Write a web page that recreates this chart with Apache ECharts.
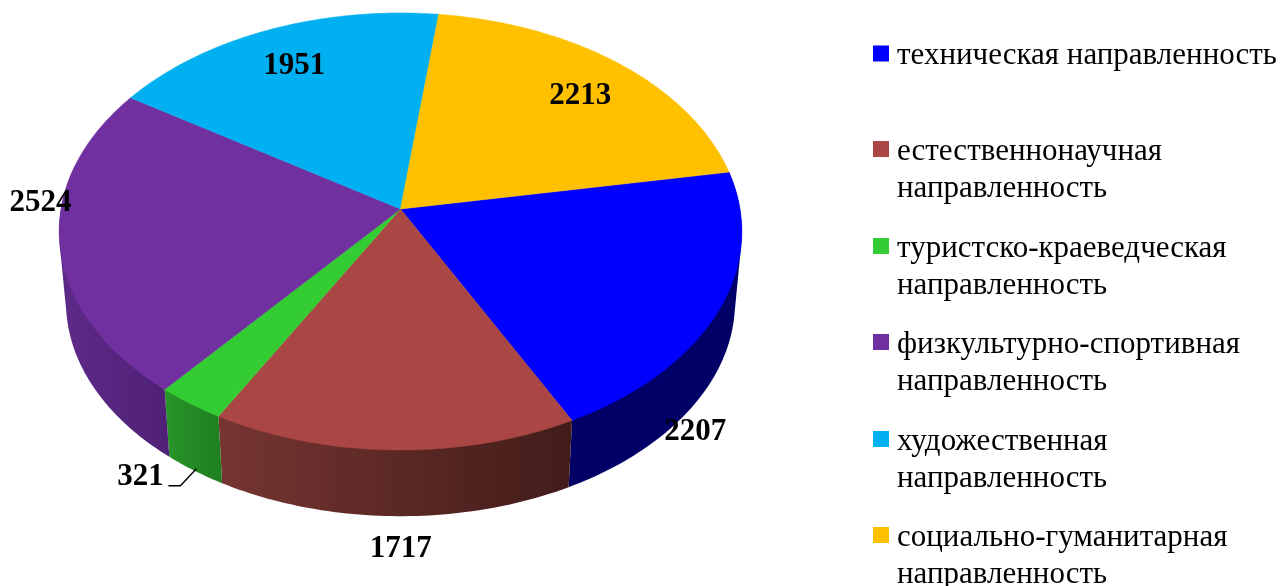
<!DOCTYPE html>
<html>
<head>
<meta charset="utf-8">
<title>Направленности</title>
<style>
	html, body { margin: 0; padding: 0; background: #fff; }
	#main { width: 1282px; height: 586px; }
</style>
<script src="https://cdn.jsdelivr.net/npm/echarts@6/dist/echarts.min.js"></script>
</head>
<body>
<div id="main"></div>
<script>
var categories = [
	'техническая направленность',
	'естественнонаучная\nнаправленность',
	'туристско-краеведческая\nнаправленность',
	'физкультурно-спортивная\nнаправленность',
	'художественная\nнаправленность',
	'социально-гуманитарная\nнаправленность'
];
var values = [2207, 1717, 321, 2524, 1951, 2213];
var topColors = ['#0000ff', '#aa4643', '#33cc33', '#7030a0', '#00b0f0', '#ffc000'];
var wallColors = [
	['#000066', '#000066'],
	['#763532', '#421c19'],
	['#28952a', '#1f7f20'],
	['#5e2a88', '#4f2176'],
	['#00b0f0', '#00b0f0'],
	['#ffc000', '#ffc000']
];
// label offset from the middle of the slice rim
var labelOffsets = [[-24, 122], [6.5, 99], [-50, 73], [-19, -39], [25, 36], [-38, 33]];
var legendTops = [37, 133, 230, 326, 423, 519];

var startAngle = 80;
var total = values.reduce(function (a, b) { return a + b; }, 0);

// the pie is a disc seen in perspective, apex is not the middle of the ellipse
var apexX = 400.5, apexY = 209, radX = 339.5, radY = 216.2, persp = 0.103;
var wallDrop = 71, wallScale = 0.98;

function rimPoint(angle, lower) {
	var rad = angle * Math.PI / 180;
	var u = Math.sin(rad), v = -Math.cos(rad);
	var w = 1 - persp * v;
	var dx = radX * u / w, dy = radY * v / w;
	if (lower) {
		return [apexX + dx * wallScale, apexY + dy * wallScale + wallDrop];
	}
	return [apexX + dx, apexY + dy];
}

function arcPoints(a0, a1, lower) {
	var pts = [];
	var steps = Math.max(2, Math.ceil(Math.abs(a1 - a0)));
	for (var k = 0; k <= steps; k++) {
		pts.push(rimPoint(a0 + (a1 - a0) * k / steps, lower));
	}
	return pts;
}

// wall outline: the part it hides under the top face does not matter
function hull(points) {
	var pts = points.slice().sort(function (a, b) { return a[0] - b[0] || a[1] - b[1]; });
	function cross(o, a, b) {
		return (a[0] - o[0]) * (b[1] - o[1]) - (a[1] - o[1]) * (b[0] - o[0]);
	}
	function half(list) {
		var out = [];
		list.forEach(function (p) {
			while (out.length > 1 && cross(out[out.length - 2], out[out.length - 1], p) <= 0) out.pop();
			out.push(p);
		});
		out.pop();
		return out;
	}
	return half(pts).concat(half(pts.slice().reverse()));
}

function sliceStart(idx) {
	var sum = 0;
	for (var i = 0; i < idx; i++) sum += values[i];
	return startAngle + sum / total * 360;
}

function makeRender(idx) {
	return function (params, api) {
		var a0 = sliceStart(idx);
		var a1 = a0 + api.value(0) / total * 360;
		var children = [];

		// only the near side of the wall is seen
		var w0 = Math.max(a0, 78), w1 = Math.min(a1, 282);
		if (w1 > w0) {
			var wall = hull(arcPoints(w0, w1, false).concat(arcPoints(w0, w1, true)));
			children.push({
				type: 'polygon',
				shape: { points: wall },
				style: {
					fill: new echarts.graphic.LinearGradient(0, 0, 1, 0, [
						{ offset: 0, color: wallColors[idx][0] },
						{ offset: 1, color: wallColors[idx][1] }
					])
				},
				z2: 1
			});
		}

		children.push({
			type: 'polygon',
			shape: { points: [[apexX, apexY]].concat(arcPoints(a0, a1, false)) },
			style: { fill: topColors[idx], stroke: topColors[idx], lineWidth: 0.5 },
			z2: 2
		});

		var mid = rimPoint((a0 + a1) / 2, false);
		var lx = mid[0] + labelOffsets[idx][0], ly = mid[1] + labelOffsets[idx][1];
		children.push({
			type: 'text',
			style: {
				x: lx, y: ly,
				text: String(api.value(0)),
				align: 'center', verticalAlign: 'middle',
				fill: '#000',
				font: 'bold 31px "Liberation Serif"'
			},
			z2: 10
		});

		// small slice has a leader line
		if (idx === 2) {
			children.push({
				type: 'polyline',
				shape: { points: [[lx + 28, ly + 9], [lx + 40, ly + 9], [lx + 56, ly - 8]] },
				style: { stroke: '#000', lineWidth: 1.4, fill: null },
				z2: 10
			});
		}

		return { type: 'group', children: children };
	};
}

var series = [];
var legends = [];
for (var i = 0; i < categories.length; i++) {
	// marker stays on the first text line: the icon box is taller than its square
	var itemH = categories[i].indexOf('\n') >= 0 ? 58 : 20;
	series.push({
		type: 'custom',
		name: categories[i],
		coordinateSystem: 'none',
		silent: true,
		itemStyle: { color: topColors[i] },
		renderItem: makeRender(i),
		data: [[values[i]]]
	});
	legends.push({
		data: [{ name: categories[i], icon: 'path://M0 0h16v16h-16z M19 ' + itemH + 'h0' }],
		left: 873,
		top: legendTops[i],
		padding: 0,
		itemWidth: 19,
		itemHeight: itemH,
		selectedMode: false,
		textStyle: {
			fontFamily: 'Liberation Serif',
			fontSize: 31,
			lineHeight: 37,
			color: '#000'
		}
	});
}

var myChart = echarts.init(document.getElementById('main'));
myChart.setOption({
	animation: false,
	legend: legends,
	series: series
});
</script>
</body>
</html>
